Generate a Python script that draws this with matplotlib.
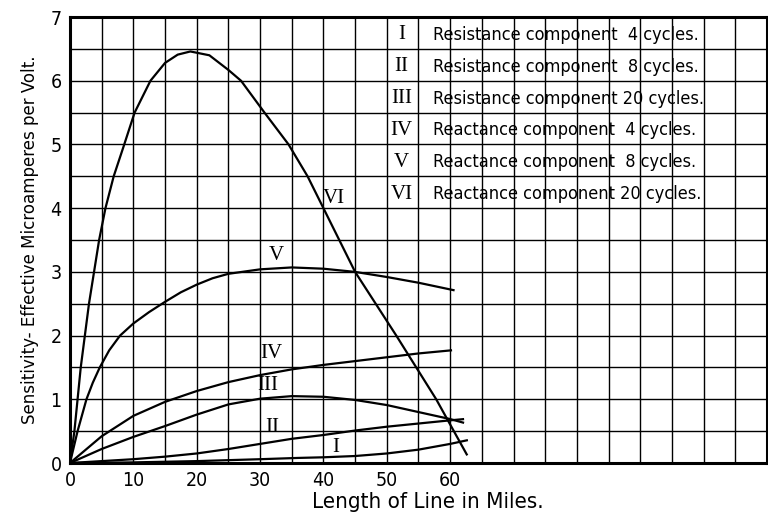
import numpy as np
import matplotlib
matplotlib.use('Agg')
import matplotlib.pyplot as plt

# curves (miles, microamperes per volt)
x_i = [0, 10, 20, 30, 36, 40, 45, 50, 55, 60, 62.8]
y_i = [0, 0.01, 0.03, 0.06, 0.08, 0.09, 0.11, 0.15, 0.21, 0.30, 0.36]

x_ii = [0, 5, 10, 15, 20, 25, 30, 35, 40, 45, 50, 55, 60, 62.2]
y_ii = [0, 0.03, 0.06, 0.10, 0.15, 0.22, 0.30, 0.38, 0.44, 0.51, 0.57, 0.62, 0.67, 0.69]

x_iii = [0, 5, 10, 15, 20, 25, 30, 35, 40, 45, 50, 55, 60, 62.2]
y_iii = [0, 0.22, 0.41, 0.58, 0.76, 0.92, 1.01, 1.05, 1.04, 0.99, 0.91, 0.80, 0.69, 0.63]

x_iv = [0, 5, 10, 15, 20, 25, 30, 35, 40, 45, 50, 55, 60.3]
y_iv = [0, 0.42, 0.74, 0.96, 1.13, 1.27, 1.38, 1.47, 1.54, 1.60, 1.66, 1.72, 1.77]

x_v = [0, 1.2, 2.6, 3.6, 4.7, 6.2, 7.9, 10, 12.5, 15, 17.5, 20, 22.5, 25, 30, 35, 40, 45, 50, 55, 60.7]
y_v = [0, 0.5, 1.0, 1.26, 1.5, 1.77, 2.0, 2.19, 2.37, 2.53, 2.68, 2.8, 2.9, 2.97, 3.04, 3.07, 3.05,
       3.0, 2.92, 2.83, 2.71]

x_vi = [0, 0.7, 1.2, 1.7, 2.35, 3.0, 3.8, 4.6, 5.6, 6.9, 8.4, 10.2, 12.7, 15, 17, 19, 22,
        25, 27, 30.7, 34.5, 37.5, 40, 45, 51.5, 57.8, 62.7]
y_vi = [0, 0.5, 1.0, 1.5, 2.0, 2.5, 3.0, 3.5, 4.0, 4.5, 4.95, 5.5, 6.0, 6.28, 6.41, 6.46, 6.4,
        6.17, 6.0, 5.5, 5.0, 4.5, 4.0, 3.0, 2.0, 1.0, 0.12]

numerals = ['I', 'II', 'III', 'IV', 'V', 'VI']
descriptions = ['Resistance component  4 cycles.',
                'Resistance component  8 cycles.',
                'Resistance component 20 cycles.',
                'Reactance component  4 cycles.',
                'Reactance component  8 cycles.',
                'Reactance component 20 cycles.']
label_pos = [(41.9, 0.25), (32.0, 0.55), (31.2, 1.22), (31.8, 1.72), (32.6, 3.25), (41.6, 4.15)]

serif = ['Liberation Serif', 'DejaVu Serif']
cond = dict(family='DejaVu Sans', stretch='condensed')

fig = plt.figure(figsize=(7.68, 5.17), dpi=100)
ax = fig.add_axes([0.0911, 0.1044, 0.9076, 0.8626])

curves = [(x_i, y_i), (x_ii, y_ii), (x_iii, y_iii), (x_iv, y_iv), (x_v, y_v), (x_vi, y_vi)]
for xs, ys in curves:
    ax.plot(xs, ys, color='black', lw=1.6, solid_capstyle='butt', solid_joinstyle='round')

for name, (lx, ly) in zip(numerals, label_pos):
    ax.text(lx, ly, name, family=serif, fontsize=15, ha='center', va='center')

# key table in the upper right
for i, (name, desc) in enumerate(zip(numerals, descriptions)):
    yy = 6.75 - 0.5 * i
    ax.text(52.3, yy - 0.03, name, family=serif, fontsize=15, ha='center', va='center')
    ax.text(57.3, yy - 0.03, desc, fontsize=13, ha='left', va='center', **cond)

ax.set_xlim(0, 110)
ax.set_ylim(0, 7)
ax.set_xticks(np.arange(0, 61, 10))
ax.set_yticks(np.arange(0, 8, 1))
ax.set_xticks(np.arange(0, 111, 5), minor=True)
ax.set_yticks(np.arange(0, 7.01, 0.5), minor=True)
ax.grid(which='both', color='black', lw=1.0)
ax.tick_params(which='both', length=0)
ax.tick_params(axis='x', pad=6, labelsize=14)
ax.tick_params(axis='y', pad=6, labelsize=14)
for lab in ax.get_xticklabels() + ax.get_yticklabels():
    lab.set_family('DejaVu Sans')
    lab.set_stretch('condensed')
for sp in ax.spines.values():
    sp.set_linewidth(2.2)
    sp.set_zorder(5)

ax.set_xlabel('Length of Line in Miles.', fontsize=16, labelpad=1, **cond)
ax.xaxis.label.set_x(0.514)
ax.set_ylabel('Sensitivity- Effective Microamperes per Volt.', fontsize=13.3, labelpad=8, **cond)

fig.savefig('out.png', dpi=100)
